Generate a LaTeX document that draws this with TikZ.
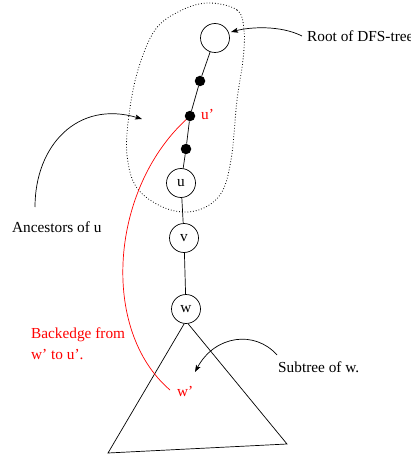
\documentclass[tikz,border=0pt]{standalone}
\usepackage{fontspec}
\setmainfont{Liberation Serif}
\usetikzlibrary{arrows.meta}
\begin{document}
\begin{tikzpicture}[x=1pt,y=-1pt,
  every node/.style={font=\fontsize{15.3}{21}\selectfont, inner sep=0pt},
  vtx/.style={draw, circle, minimum size=29pt, line width=0.7pt},
  dotv/.style={fill, circle, minimum size=10.5pt},
  edge/.style={line width=0.7pt},
  lbl/.style={anchor=base west},
  pointer/.style={line width=0.7pt, -{Stealth[length=7pt,width=5pt,inset=1.5pt]}},
  redc/.style={red}]
\useasboundingbox (0,0) rectangle (411,457);
\clip (0,0) rectangle (411,457);
% blob
\draw[dotted, line width=0.8pt] plot[smooth cycle, tension=0.6] coordinates
  {(208,3) (237,10) (244,30) (243,60) (237,100) (231,160) (220,195) (195,211) (165,208) (137,188) (127,155) (129,115) (138,70) (155,30) (180,11)};
% nodes
\node[vtx] (r) at (215,38) {};
\node[dotv] (d1) at (200,81) {};
\node[dotv] (up) at (190,116) {};
\node[dotv] (d3) at (186,149) {};
\node[vtx] (u) at (181,183) {u};
\node[vtx] (v) at (184,238) {v};
\node[vtx] (w) at (186,309) {w};
\coordinate (bl) at (108,453);
\coordinate (br) at (287,444);
\coordinate (wp) at (170,390);
\draw[edge] (r) -- (d1) -- (up) -- (d3) -- (u) -- (v) -- (w);
\draw[edge] (w.-97) -- (bl) -- (br) -- (w.-82);
% labels
\node[lbl, redc] (uplbl) at (201,120) {u'};
\node[lbl, redc] (wplbl) at (177,396) {w'};
\node[lbl] (rootlbl) at (307,42) {Root of DFS-tree};
\node[lbl] (anclbl) at (12,232) {Ancestors of u};
\node[lbl] (sublbl) at (278,372) {Subtree of w.};
\node[lbl, redc] (back1) at (31,338) {Backedge from};
\node[lbl, redc] (back2) at (31,359) {w' to u'.};
% backedge
\draw[red, line width=0.7pt] (up) .. controls (110,190) and (100,330) .. (wp);
% pointers
\coordinate (rs) at (302,36);
\coordinate (rt) at (231,32);
\draw[pointer] (rs) .. controls (280,25) and (250,27) .. (rt);
\coordinate (as) at (35,207);
\coordinate (at) at (142,119);
\draw[pointer] (as) .. controls (35,145) and (78,100) .. (at);
\coordinate (ss) at (277,355);
\coordinate (st) at (195,372);
\draw[pointer] (ss) .. controls (255,330) and (215,335) .. (st);
\end{tikzpicture}
\end{document}
